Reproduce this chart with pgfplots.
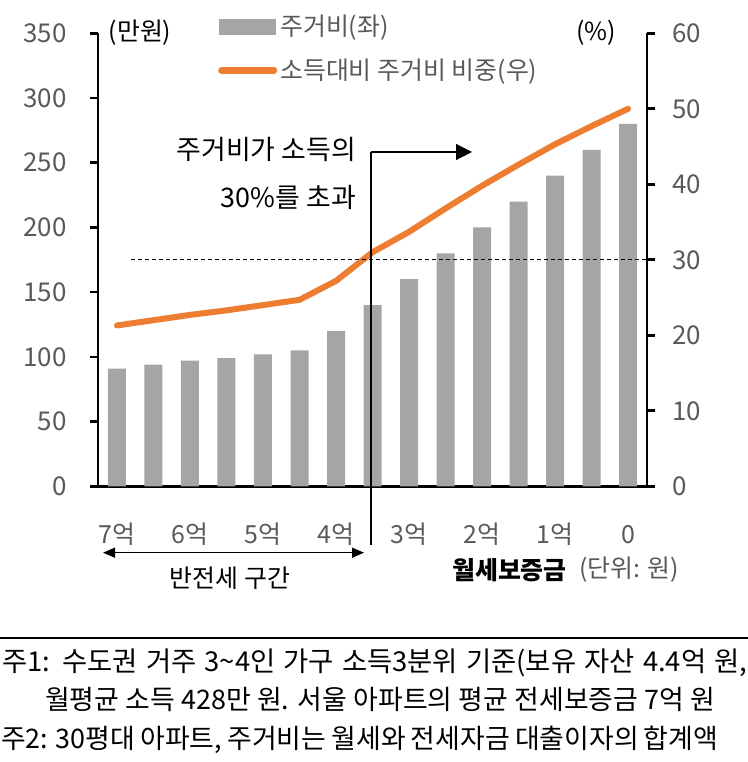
\documentclass[border=0pt]{standalone}
\usepackage{fontspec}
\setmainfont{Noto Sans CJK KR}
\usepackage{pgfplots}
\pgfplotsset{compat=1.18}
\usetikzlibrary{arrows.meta}
\definecolor{barcol}{HTML}{A5A5A5}
\definecolor{linecol}{HTML}{ED7D31}
\definecolor{tickgray}{HTML}{595959}
\begin{document}
\begin{tikzpicture}[x=1bp,y=1bp]
\path[use as bounding box] (0,0) rectangle (748,762);
\pgfplotsset{
 base/.style={
  scale only axis, width=549bp, height=453bp,
  at={(98bp,275.7bp)}, anchor=south west,
  xmin=0.48, xmax=15.52,
  axis line style={line width=2.6bp},
  tick align=outside, major tick length=8bp,
  ticklabel style={font=\fontsize{26}{30}\selectfont, text=tickgray},
  /pgf/number format/assume math mode=true,
  clip=false,
 }
}
\begin{axis}[base, ymin=0, ymax=350, ytick={0,50,...,350},
  axis x line*=bottom, axis y line*=left,
  xtick={1,3,...,15}, xticklabels={7억,6억,5억,4억,3억,2억,1억,0},
  x tick style={draw=none},
  y tick style={line width=2.6bp, black},
  xticklabel style={anchor=base, yshift=-49bp, font=\fontsize{25}{30}\selectfont},
  yticklabel style={anchor=east, xshift=-20bp},
]
\addplot[ybar, bar width=18bp, fill=barcol, draw=none] coordinates {
(1,91) (2,94) (3,97) (4,99) (5,102) (6,105) (7,120) (8,140) (9,160) (10,180) (11,200) (12,220) (13,240) (14,260) (15,280)};
\end{axis}
\begin{axis}[base, ymin=0, ymax=60, ytick={0,10,...,60},
  axis y line*=right, axis x line=none,
  y tick style={line width=2.6bp, black},
  yticklabel style={anchor=west, xshift=14bp},
  legend style={at={(axis description cs:0.2186,1.047)}, anchor=north west, draw=none, fill=none,
    font=\fontsize{25}{30}\selectfont, text=tickgray, inner sep=0pt, row sep=16bp, nodes={inner sep=3bp}},
  legend cell align=left,
]
\addlegendimage{legend image code/.code={\fill[barcol] (0bp,-7.5bp) rectangle (56bp,7.5bp);}}
\addlegendentry{주거비(좌)}
\addplot[linecol, line width=6bp, line join=round, line cap=round,
  legend image code/.code={\draw[linecol, line width=7bp, line cap=round] (3bp,0) -- (55bp,0);}] coordinates {
(1,21.3) (2,22.0) (3,22.7) (4,23.3) (5,24.0) (6,24.7) (7,27.2) (8,31.0) (9,33.7) (10,36.8) (11,39.8) (12,42.6) (13,45.3) (14,47.7) (15,50.0)};
\addlegendentry{소득대비 주거비 비중(우)}
\draw[line width=1bp, dash pattern=on 4bp off 3bp] (axis cs:1.38,30) -- (axis cs:15.52,30);
\end{axis}
% annotations
\draw[line width=1.2bp] (371,610) -- (371,217);
\draw[line width=1.2bp, -{Triangle[length=16bp,width=16bp]}] (371,610) -- (472,610);
\draw[line width=1.2bp, {Triangle[length=12bp,width=10bp]}-{Triangle[length=12bp,width=10bp]}] (103,209.3) -- (364,209.3);
\node[anchor=east, inner sep=0, font=\fontsize{27}{30}\selectfont] at (356,613) {주거비가 소득의};
\node[anchor=east, inner sep=0, font=\fontsize{27}{30}\selectfont] at (356,565) {30\%를 초과};
\node[inner sep=0, font=\fontsize{25}{30}\selectfont] at (140,729) {(만원)};
\node[inner sep=0, font=\fontsize{25}{30}\selectfont] at (596,729) {(\%)};
\node[inner sep=0, font=\fontsize{25}{30}\selectfont] at (230,184) {반전세 구간};
\node[anchor=west, inner sep=0, font=\fontsize{25}{30}\selectfont\bfseries] at (452,192) {월세보증금};
\node[anchor=west, inner sep=0, font=\fontsize{25}{30}\selectfont, text=tickgray] at (579,192) {(단위: 원)};
% footer
\draw[line width=1.2bp] (0,124) -- (748,124);
\node[anchor=base west, inner sep=0, font=\fontsize{27.5}{30}\selectfont] at (2,90) {\makebox[745bp][s]{주1: 수도권 거주 3\textasciitilde4인 가구 소득3분위 기준(보유 자산 4.4억 원,}};
\node[anchor=base west, inner sep=0, font=\fontsize{27}{30}\selectfont] at (45,52) {\makebox[670bp][s]{월평균 소득 428만 원. 서울 아파트의 평균 전세보증금 7억 원}};
\node[anchor=base west, inner sep=0, font=\fontsize{27}{30}\selectfont] at (1,13) {\makebox[717bp][s]{주2: 30평대 아파트, 주거비는 월세와 전세자금 대출이자의 합계액}};
\end{tikzpicture}
\end{document}
